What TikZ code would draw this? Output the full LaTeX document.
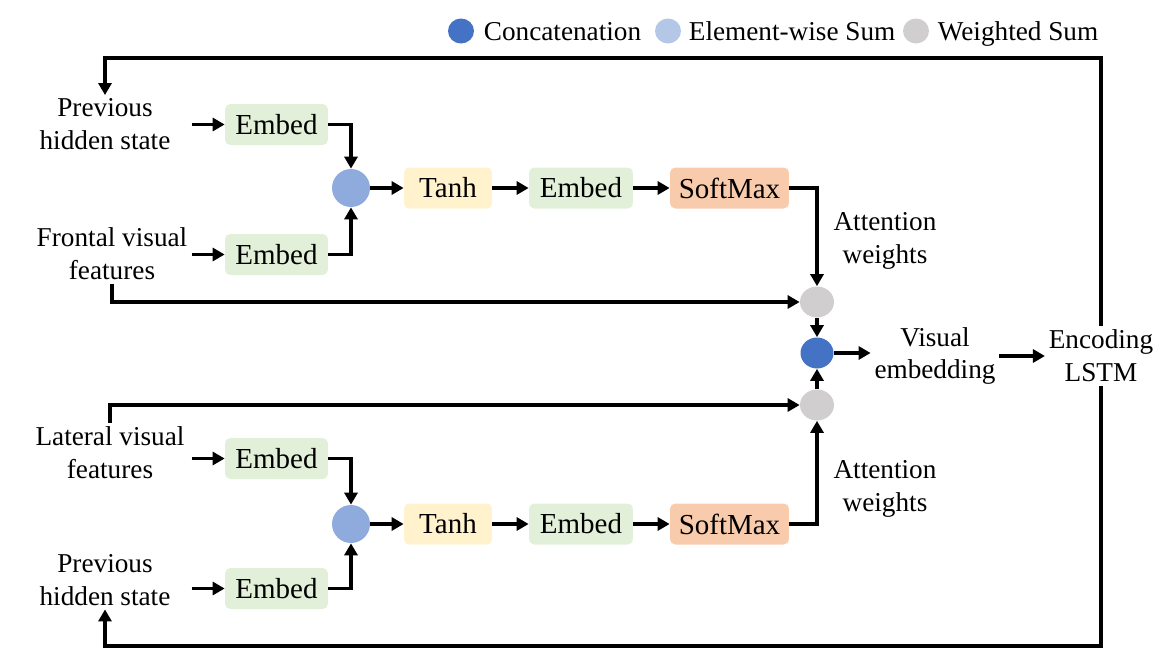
\documentclass[tikz,border=0pt]{standalone}
\usepackage{fontspec}
\setmainfont{Liberation Serif}
\usetikzlibrary{arrows.meta,shapes.geometric}

\definecolor{embgreen}{HTML}{E2F0D9}
\definecolor{tanhyellow}{HTML}{FFF2CC}
\definecolor{softorange}{HTML}{F8CBAD}
\definecolor{sumblue}{HTML}{8FAADC}
\definecolor{sumlight}{HTML}{B4C7E7}
\definecolor{catblue}{HTML}{4472C4}
\definecolor{wgray}{HTML}{D0CECE}

\tikzset{
    block/.style={fill=#1, rounded corners=3pt, minimum height=0.82cm, inner sep=0pt,
        font=\fontsize{16.5}{19}\selectfont},
    lbl/.style={align=center, inner sep=2pt, font=\fontsize{15.5}{18.7}\selectfont},
    wire/.style={line width=2.2pt},
    arr/.style={wire, -{Triangle[length=0.24cm,width=0.26cm]}},
    dot/.style={ellipse, fill=#1, inner sep=0pt, minimum width=0.68cm, minimum height=0.62cm},
}

\begin{document}
\begin{tikzpicture}[x=0.02cm, y=-0.02cm]
    \useasboundingbox (0, 0) rectangle (1161, 670);

        % legend
        \node[dot=catblue, minimum width=0.52cm, minimum height=0.5cm] (lgCat) at (461, 31) {};
        \node[lbl, anchor=base west] (lgCatTxt) at (480, 40) {Concatenation};
        \node[dot=sumlight, minimum width=0.52cm, minimum height=0.5cm] (lgSum) at (668, 31) {};
        \node[lbl, anchor=base west] (lgSumTxt) at (685, 40) {Element-wise Sum};
        \node[dot=wgray, minimum width=0.52cm, minimum height=0.5cm] (lgW) at (916, 31) {};
        \node[lbl, anchor=base west] (lgWTxt) at (934, 40) {Weighted Sum};

        % frontal branch
        \node[lbl] (prevA) at (105, 124.5) {Previous\\hidden state};
        \node[block=embgreen, minimum width=2.06cm] (embA1) at (276.5, 124.5) {Embed};
        \node[lbl] (front) at (112, 254) {Frontal visual\\features};
        \node[block=embgreen, minimum width=2.06cm] (embA2) at (276.5, 254.5) {Embed};
        \node[dot=sumblue, minimum width=0.76cm, minimum height=0.76cm] (sumA) at (351, 188) {};
        \node[block=tanhyellow, minimum width=1.76cm] (tanhA) at (448, 188) {Tanh};
        \node[block=embgreen, minimum width=2.08cm] (embA3) at (581, 188) {Embed};
        \node[block=softorange, minimum width=2.38cm] (softA) at (729.5, 188) {SoftMax};
        \node[lbl] (attA) at (885, 240.5) {Attention\\weights};

        % fusion
        \node[dot=wgray] (wA) at (817, 302) {};
        \node[dot=catblue, minimum width=0.66cm] (cat) at (817, 353) {};
        \node[dot=wgray] (wB) at (817, 405) {};
        \node[lbl] (vis) at (935, 356) {Visual\\embedding};
        \node[lbl] (lstm) at (1101, 356) {Encoding\\LSTM};

        % lateral branch
        \node[lbl] (lat) at (110, 453) {Lateral visual\\features};
        \node[block=embgreen, minimum width=2.06cm] (embB1) at (276.5, 458.5) {Embed};
        \node[lbl] (prevB) at (105, 580) {Previous\\hidden state};
        \node[block=embgreen, minimum width=2.06cm] (embB2) at (276.5, 588.5) {Embed};
        \node[dot=sumblue, minimum width=0.76cm, minimum height=0.76cm] (sumB) at (351, 524) {};
        \node[block=tanhyellow, minimum width=1.76cm] (tanhB) at (448, 524) {Tanh};
        \node[block=embgreen, minimum width=2.08cm] (embB3) at (581, 524) {Embed};
        \node[block=softorange, minimum width=2.38cm] (softB) at (729.5, 524) {SoftMax};
        \node[lbl] (attB) at (885, 488.5) {Attention\\weights};

        \coordinate (loopT) at (600, 58);
        \coordinate (loopB) at (600, 646);

        % arrows, frontal
        \draw[arr] ([xshift=-0.66cm]embA1.west) -- (embA1.west);
        \draw[arr] ([xshift=-0.66cm]embA2.west) -- (embA2.west);
        \draw[arr] (embA1.east) -| (sumA.north);
        \draw[arr] (embA2.east) -| (sumA.south);
        \draw[arr] (sumA) -- (tanhA);
        \draw[arr] (tanhA) -- (embA3);
        \draw[arr] (embA3) -- (softA);
        \draw[arr] (softA.east) -| (wA.north);
        \draw[arr] (front.south) |- (wA.west);

        % arrows, lateral
        \draw[arr] ([xshift=-0.66cm]embB1.west) -- (embB1.west);
        \draw[arr] ([xshift=-0.66cm]embB2.west) -- (embB2.west);
        \draw[arr] (embB1.east) -| (sumB.north);
        \draw[arr] (embB2.east) -| (sumB.south);
        \draw[arr] (sumB) -- (tanhB);
        \draw[arr] (tanhB) -- (embB3);
        \draw[arr] (embB3) -- (softB);
        \draw[arr] (softB.east) -| (wB.south);
        \draw[arr] (lat.north) |- (wB.west);

        % fusion and loop
        \draw[arr] (wA) -- (cat);
        \draw[arr] (wB) -- (cat);
        \draw[arr] (cat) -- (cat -| vis.west);
        \draw[arr] (vis) -- (lstm);
        \draw[arr] (lstm.north) |- (loopT) -| (prevA.north);
        \draw[arr] (lstm.south) |- (loopB) -| (prevB.south);
    \end{tikzpicture}
\end{document}
